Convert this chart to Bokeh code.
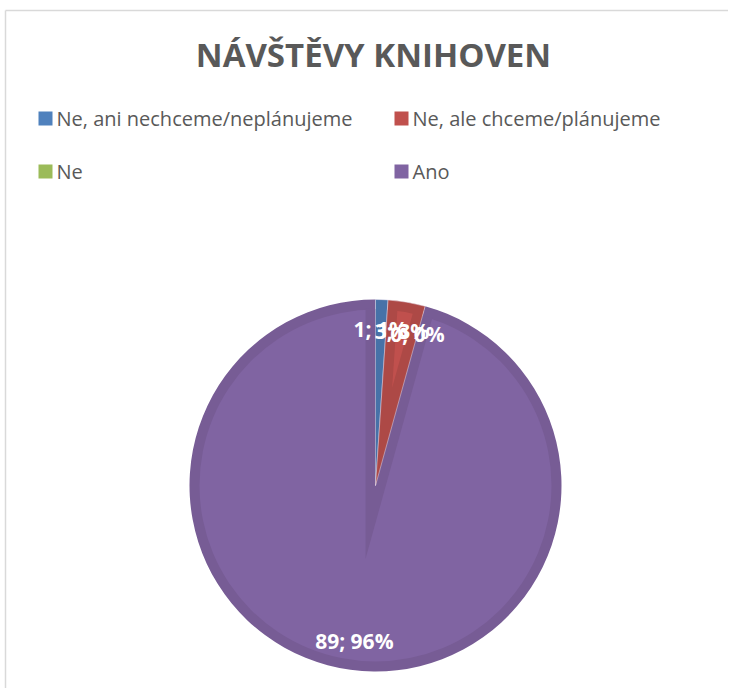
import numpy as np
from bokeh.plotting import figure
from bokeh.models import Range1d, ColumnDataSource
from bokeh.core.properties import value
from bokeh.embed import file_html
from bokeh.resources import INLINE

# ---- data ----
title_text = "NÁVŠTĚVY KNIHOVEN"
categories = ["Ne, ani nechceme/neplánujeme", "Ne, ale chceme/plánujeme", "Ne", "Ano"]
counts = [1, 3, 0, 89]
base_colors = ["#4F81BD", "#C0504D", "#9BBB59", "#8064A2"]
dark_colors = ["#4772A8", "#AD4946", "#8CA851", "#775C95"]

W, H = 728, 688
def sy(y):  # screen y (from top) -> data y
    return H - y

p = figure(width=W, height=H, x_range=Range1d(0, W), y_range=Range1d(0, H),
           output_backend="svg", toolbar_location=None, min_border=0)
p.axis.visible = False
p.grid.visible = False
p.outline_line_color = None
p.background_fill_color = "white"

# chart border (top & left visible)
p.segment(x0=[5, 5], y0=[sy(10), sy(10)], x1=[W, 5], y1=[sy(10), 0],
          line_color="#D9D9D9", line_width=1.5)

# title
p.text(x=[373], y=[sy(54)], text=[title_text], text_font=value("Open Sans"),
       text_font_style="bold", text_font_size="33px", text_color="#595959",
       text_align="center", text_baseline="middle")

# legend
leg_x = [45, 401, 45, 401]
leg_y = [118, 118, 171, 171]
p.rect(x=leg_x, y=[sy(v) for v in leg_y], width=14, height=14,
       fill_color=base_colors, line_color=None)
p.text(x=[v + 11 for v in leg_x], y=[sy(v) for v in leg_y], text=categories,
       text_font=value("Open Sans"), text_font_size="20px", text_color="#595959",
       text_align="left", text_baseline="middle")

# pie
cx, cy, R, d = 375, sy(485), 186, 10
total = float(sum(counts))
fr = np.array(counts) / total
ends = np.cumsum(fr) * 2 * np.pi
starts = ends - fr * 2 * np.pi
mids = (starts + ends) / 2

# Ano slice with bevel
i = 3
p.wedge(x=cx, y=cy, radius=R, start_angle=np.pi/2 - starts[i], end_angle=np.pi/2 - ends[i],
        direction="clock", fill_color=dark_colors[i], line_color=None)
p.circle(x=[cx], y=[cy], radius=R - d, fill_color=base_colors[i], line_color=None)
small_span = starts[i]
bis = small_span / 2
k = d / np.sin(small_span / 2)
ax, ay = cx - k * np.sin(bis), cy - k * np.cos(bis)
p.wedge(x=ax, y=ay, radius=R - d + k, start_angle=np.pi/2 - 0.0, end_angle=np.pi/2 - small_span,
        direction="clock", fill_color=dark_colors[i], line_color=None)

# small slices
for j in range(3):
    if counts[j] == 0:
        continue
    p.wedge(x=cx, y=cy, radius=R, start_angle=np.pi/2 - starts[j], end_angle=np.pi/2 - ends[j],
            direction="clock", fill_color=dark_colors[j], line_color="#E8E0EE", line_width=0.8,
            line_alpha=0.6)
    span = ends[j] - starts[j]
    kk = d / np.sin(span / 2)
    if kk < R - d - 20:
        bx, by = cx + kk * np.sin(mids[j]), cy + kk * np.cos(mids[j])
        p.wedge(x=bx, y=by, radius=R - d - kk, start_angle=np.pi/2 - starts[j],
                end_angle=np.pi/2 - ends[j], direction="clock",
                fill_color=base_colors[j], line_color=None)

# data labels
r_lab = 157
labels = [f"{c}; {round(f*100)}%" for c, f in zip(counts, fr)]
lx = cx + r_lab * np.sin(mids)
ly = cy + r_lab * np.cos(mids)
src = ColumnDataSource(dict(x=lx, y=ly, t=labels))
p.text(x="x", y="y", text="t", source=src, text_font=value("Open Sans"),
       text_font_style="bold", text_font_size="21px", text_color="white",
       text_align="center", text_baseline="middle")

open("out.html", "w").write(file_html(p, INLINE))
